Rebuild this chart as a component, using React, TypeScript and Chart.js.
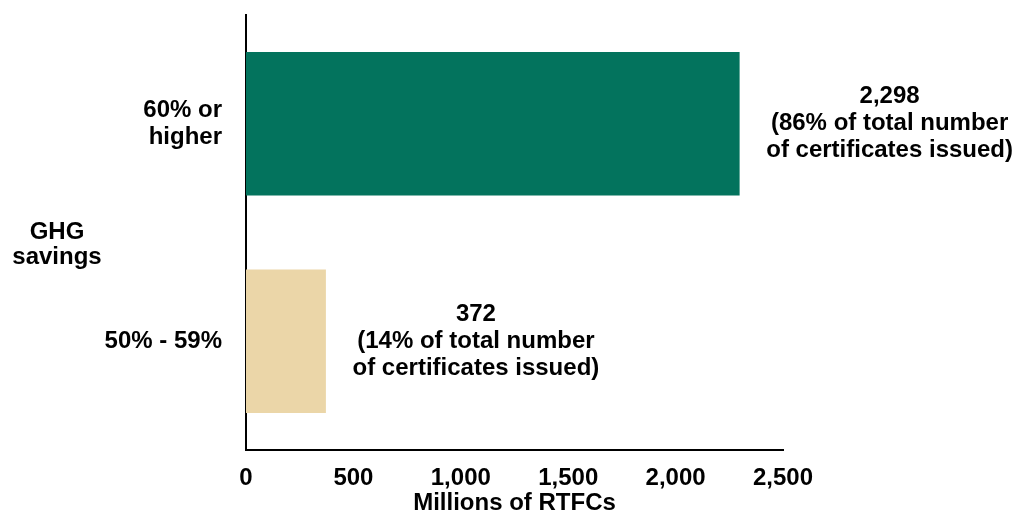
import React, { useEffect, useRef } from "react";
import { Chart, registerables } from "chart.js";

Chart.register(...registerables);

const categories: (string | string[])[] = [["60% or", "higher"], "50% - 59%"];
const values: number[] = [2298, 372];
const barColors: string[] = ["#03735D", "#EBD6A8"];
const valueLabels: string[][] = [
  ["2,298", "(86% of total number", "of certificates issued)"],
  ["372", "(14% of total number", "of certificates issued)"],
];
const xTicks: number[] = [0, 500, 1000, 1500, 2000, 2500];
const yAxisTitle: string[] = ["GHG", "savings"];
const xAxisTitle = "Millions of RTFCs";

const FONT = '"Liberation Sans", Arial, sans-serif';
const FS = 24;

const labelPlugin = {
  id: "valueLabels",
  afterDatasetsDraw(chart: any) {
    const ctx = chart.ctx;
    const meta = chart.getDatasetMeta(0);
    ctx.save();
    ctx.font = `bold ${FS}px ${FONT}`;
    ctx.fillStyle = "#000";
    ctx.textAlign = "center";
    ctx.textBaseline = "middle";
    const lh = 27;
    meta.data.forEach((el: any, i: number) => {
      const lines = valueLabels[i];
      const cx = el.x + 150;
      const y0 = el.y - ((lines.length - 1) * lh) / 2;
      lines.forEach((t, j) => ctx.fillText(t, cx, y0 + j * lh));
    });
    // y axis title (horizontal, at left)
    const midY = (chart.chartArea.top + chart.chartArea.bottom) / 2 + 12;
    const y1 = midY - ((yAxisTitle.length - 1) * 25) / 2;
    yAxisTitle.forEach((t, j) => ctx.fillText(t, 57, y1 + j * 25));
    ctx.restore();
  },
};

export default function App() {
  const ref = useRef<HTMLCanvasElement>(null);
  useEffect(() => {
    if (!ref.current) return;
    const chart = new Chart(ref.current, {
      type: "bar",
      data: {
        labels: categories as any,
        datasets: [
          {
            data: values,
            backgroundColor: barColors,
            borderWidth: 0,
            barPercentage: 0.66,
            categoryPercentage: 1,
          },
        ],
      },
      options: {
        indexAxis: "y",
        animation: false,
        responsive: false,
        layout: { padding: { top: 15, right: 243, left: 0, bottom: 0 } },
        plugins: { legend: { display: false }, tooltip: { enabled: false } },
        scales: {
          x: {
            type: "linear",
            min: xTicks[0],
            max: xTicks[xTicks.length - 1],
            afterBuildTicks: (scale: any) => {
              scale.ticks = xTicks.map((v) => ({ value: v }));
            },
            afterFit: (scale: any) => {
              scale.height = 69;
            },
            grid: { display: false, drawTicks: false },
            border: { display: true, color: "#000", width: 2 },
            ticks: {
              color: "#000",
              padding: 14,
              font: { family: FONT, size: FS, weight: "bold" },
              callback: (v: any) => Number(v).toLocaleString("en-US"),
            },
            title: {
              display: true,
              text: xAxisTitle,
              color: "#000",
              padding: { top: 0, bottom: 1 },
              font: { family: FONT, size: FS, weight: "bold" },
            },
          },
          y: {
            afterFit: (scale: any) => {
              scale.width = 246;
              scale.paddingTop = 0;
              scale.paddingBottom = 0;
            },
            grid: { display: false, drawTicks: false },
            border: { display: true, color: "#000", width: 2 },
            ticks: {
              color: "#000",
              padding: 24,
              font: { family: FONT, size: FS, weight: "bold", lineHeight: 27 / FS },
            },
          },
        },
      },
      plugins: [labelPlugin],
    });
    return () => chart.destroy();
  }, []);
  return (
    <div style={{ position: "fixed", left: 0, top: 0, width: 1026, height: 519, background: "#fff" }}>
      <canvas ref={ref} width={1026} height={519} style={{ display: "block" }} />
    </div>
  );
}
